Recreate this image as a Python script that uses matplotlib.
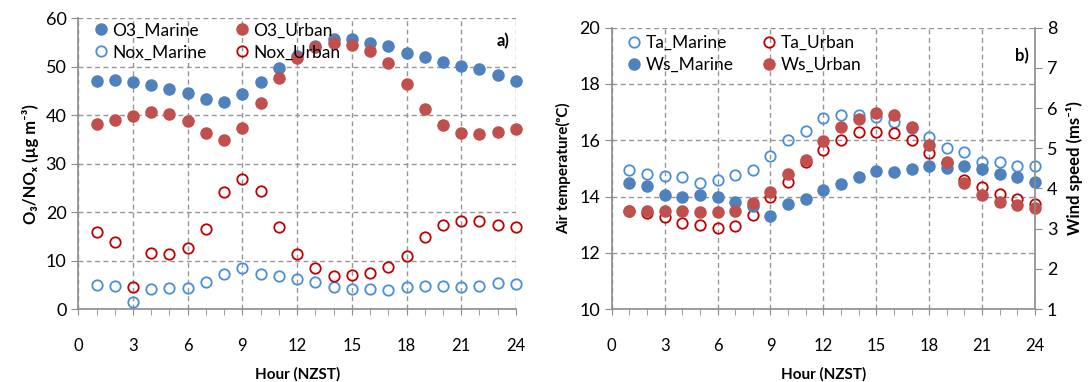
import matplotlib
matplotlib.use("Agg")
import matplotlib.pyplot as plt
from matplotlib import font_manager
from matplotlib.ticker import MultipleLocator

# hours
hours = list(range(1, 25))

# panel a) O3 / NOx (ug m-3)
o3_marine = [47.1, 47.2, 46.9, 46.2, 45.4, 44.6, 43.3, 42.7, 44.4, 46.9, 49.7, 52.3,
             54.3, 55.7, 55.7, 55.0, 54.3, 52.9, 52.1, 50.9, 50.2, 49.5, 48.3, 47.1]
o3_urban = [38.1, 39.0, 39.8, 40.6, 40.2, 38.9, 36.4, 34.8, 37.4, 42.5, 47.7, 51.9,
            54.1, 55.0, 54.5, 53.3, 50.7, 46.4, 41.2, 37.9, 36.3, 36.1, 36.5, 37.2]
nox_marine = [5.0, 4.7, 1.4, 4.2, 4.3, 4.3, 5.6, 7.2, 8.5, 7.3, 6.8, 6.1,
              5.5, 4.5, 4.2, 4.2, 3.9, 4.5, 4.7, 4.7, 4.5, 4.7, 5.4, 5.2]
nox_urban = [15.8, 13.8, 4.6, 11.6, 11.4, 12.5, 16.6, 24.1, 26.9, 24.3, 16.9, 11.3,
             8.4, 6.9, 7.1, 7.4, 8.7, 10.9, 14.9, 17.3, 18.2, 18.2, 17.3, 17.0]

# panel b) air temperature (C) and wind speed (m/s)
ta_marine = [14.94, 14.80, 14.74, 14.68, 14.48, 14.59, 14.75, 14.94, 15.44, 16.02, 16.32, 16.78,
             16.90, 16.90, 16.81, 16.64, 16.45, 16.13, 15.73, 15.57, 15.21, 15.21, 15.09, 15.07]
ta_urban = [13.50, 13.40, 13.26, 13.05, 12.97, 12.89, 12.95, 13.36, 13.97, 14.53, 15.24, 15.65,
            16.01, 16.28, 16.30, 16.27, 16.00, 15.53, 15.20, 14.58, 14.35, 14.09, 13.92, 13.73]
ws_marine = [4.14, 4.06, 3.84, 3.80, 3.84, 3.80, 3.66, 3.57, 3.31, 3.61, 3.75, 3.96,
             4.10, 4.28, 4.44, 4.42, 4.49, 4.57, 4.50, 4.57, 4.49, 4.36, 4.28, 4.17]
ws_urban = [3.44, 3.45, 3.45, 3.45, 3.41, 3.41, 3.45, 3.63, 3.90, 4.36, 4.70, 5.18,
            5.52, 5.74, 5.87, 5.84, 5.54, 5.09, 4.66, 4.14, 3.85, 3.66, 3.60, 3.51]

installed = {f.name for f in font_manager.fontManager.ttflist}
main_font = ['Lato', 'DejaVu Sans'] if 'Lato' in installed else ['DejaVu Sans']
narrow = 'Liberation Sans Narrow' if 'Liberation Sans Narrow' in installed else main_font[0]
plt.rcParams['font.family'] = main_font

blue_f = '#4F81BD'
red_f = '#C0504D'
blue_o = '#4A8EDB'
red_o = '#C00000'
grid_c = '#959595'
spine_c = '#8C8C8C'

fig = plt.figure(figsize=(10.92, 3.82), dpi=100)
ax1 = fig.add_axes([0.0717, 0.191, 0.4008, 0.761])
ax2 = fig.add_axes([0.5602, 0.191, 0.3876, 0.7364])
ax3 = ax2.twinx()

ms = 8
def filled(ax, y, c, lab):
    return ax.plot(hours, y, 'o', ms=ms, color=c, mec=c, label=lab, clip_on=False)[0]

def hollow(ax, y, c, lab):
    return ax.plot(hours, y, 'o', ms=ms - 0.5, mfc='none', mec=c, mew=1.3, label=lab, clip_on=False)[0]

def style(ax):
    ax.set_xlim(0, 24)
    ax.xaxis.set_major_locator(MultipleLocator(3))
    ax.xaxis.set_minor_locator(MultipleLocator(1))
    ax.grid(True, which='major', ls=(0, (3.5, 2.5)), color=grid_c, lw=1)
    ax.set_axisbelow(True)
    for s in ['top', 'right']:
        ax.spines[s].set_visible(False)
    for s in ['left', 'bottom']:
        ax.spines[s].set_color(spine_c)
        ax.spines[s].set_linewidth(1.2)
    ax.tick_params(axis='x', which='both', direction='out', length=4, color=spine_c,
                   labelsize=12, pad=17)
    ax.tick_params(axis='y', direction='out', length=5, color=spine_c, labelsize=13)
    for t in ax.get_xticklabels():
        t.set_family(narrow)
    ax.set_xlabel('Hour (NZST)', fontsize=11, fontweight='bold', family=narrow, labelpad=9)

# panel a)
h1 = filled(ax1, o3_marine, blue_f, 'O3_Marine')
h2 = filled(ax1, o3_urban, red_f, 'O3_Urban')
h3 = hollow(ax1, nox_marine, blue_o, 'Nox_Marine')
h4 = hollow(ax1, nox_urban, red_o, 'Nox_Urban')
ax1.set_ylim(0, 60)
ax1.yaxis.set_major_locator(MultipleLocator(10))
style(ax1)
ax1.set_ylabel('O₃/NOₓ (µg m⁻³)', fontsize=12, fontweight='bold', labelpad=5)
ax1.legend([h1, h3, h2, h4], ['O3_Marine', 'Nox_Marine', 'O3_Urban', 'Nox_Urban'],
           ncol=2, loc='upper left', bbox_to_anchor=(-0.01, 1.04), frameon=False,
           fontsize=12.5, handletextpad=0.0, columnspacing=1.4, labelspacing=0.35,
           handlelength=1.3)
ax1.text(0.985, 0.92, 'a)', transform=ax1.transAxes, ha='right', va='center',
         fontsize=12, fontweight='bold')

# panel b)
g1 = hollow(ax2, ta_marine, blue_o, 'Ta_Marine')
g2 = hollow(ax2, ta_urban, red_o, 'Ta_Urban')
ax2.set_ylim(10, 20)
ax2.yaxis.set_major_locator(MultipleLocator(2))
style(ax2)
ax2.set_ylabel('Air temperature(ᵒC)', fontsize=11, fontweight='bold', labelpad=6)

g3 = filled(ax3, ws_marine, blue_f, 'Ws_Marine')
g4 = filled(ax3, ws_urban, red_f, 'Ws_Urban')
ax3.set_ylim(1, 8)
ax3.yaxis.set_major_locator(MultipleLocator(1))
for s in ['top', 'left', 'bottom']:
    ax3.spines[s].set_visible(False)
ax3.spines['right'].set_color(spine_c)
ax3.spines['right'].set_linewidth(1.2)
ax3.tick_params(axis='y', direction='out', length=5, color=spine_c, labelsize=13)
ax3.set_ylabel('Wind speed (ms⁻¹)', fontsize=12, fontweight='bold', labelpad=6)
ax3.legend([g1, g3, g2, g4], ['Ta_Marine', 'Ws_Marine', 'Ta_Urban', 'Ws_Urban'],
           ncol=2, loc='upper left', bbox_to_anchor=(-0.01, 1.03), frameon=False,
           fontsize=12.5, handletextpad=0.0, columnspacing=1.4, labelspacing=0.35,
           handlelength=1.3)
ax3.text(0.985, 0.9, 'b)', transform=ax3.transAxes, ha='right', va='center',
         fontsize=12, fontweight='bold')

fig.savefig('out.png', dpi=100)
